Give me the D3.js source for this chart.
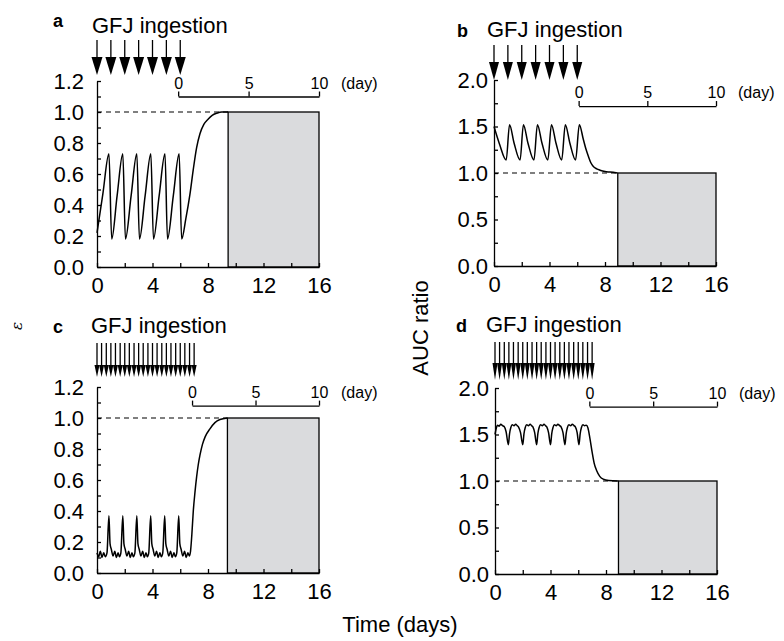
<!DOCTYPE html>
<html>
<head>
<meta charset="utf-8">
<script src="https://cdn.jsdelivr.net/npm/d3@7"></script>
<style>
  body { margin: 0; background: #fff; }
  text { font-family: "Liberation Sans", Arial, sans-serif; }
</style>
</head>
<body>
<div id="chart"></div>
<script>
// values
var xTicks = [0, 2, 4, 6, 8, 10, 12, 14, 16];
var epsTicks = [0, 0.1, 0.2, 0.3, 0.4, 0.5, 0.6, 0.7, 0.8, 0.9, 1.0, 1.1, 1.2];
var aucTicks = [0, 0.25, 0.5, 0.75, 1.0, 1.25, 1.5, 1.75, 2.0];
var topTicks = [0, 5, 10];
var panelLetters = ["a", "b", "c", "d"];
var doseLabel = "GFJ ingestion";

// once daily ingestion (a, b)
var dosesOnce = [0, 1, 2, 3, 4, 5, 6];
// three times a day (c, d)
var dosesThrice = [0, 0.33, 0.67, 1, 1.33, 1.67, 2, 2.33, 2.67, 3, 3.33, 3.67, 4, 4.33, 4.67, 5, 5.33, 5.67, 6, 6.33, 6.67, 7];

// a: epsilon, once daily
var daysA = [0, 0.42, 0.86, 1.06, 1.45, 1.86, 2.05, 2.46, 2.87, 3.06, 3.47, 3.88, 4.07, 4.48, 4.9, 5.08, 5.5, 5.92, 6.1,
  6.4, 6.7, 6.94, 7.18, 7.42, 7.7, 8.02, 8.3, 8.63, 9.0, 9.45];
var epsA = [0.22, 0.47, 0.73, 0.18, 0.46, 0.73, 0.18, 0.46, 0.73, 0.18, 0.46, 0.73, 0.18, 0.46, 0.73, 0.18, 0.46, 0.73, 0.18,
  0.31, 0.47, 0.63, 0.77, 0.86, 0.92, 0.955, 0.978, 0.992, 1.0, 1.0];

// b: AUC ratio, once daily
var daysB = [0, 0.4, 0.88, 1.12, 1.45, 1.88, 2.12, 2.45, 2.88, 3.13, 3.46, 3.88, 4.14, 4.47, 4.88, 5.14, 5.47, 5.88, 6.15,
  6.44, 6.62, 6.8, 6.98, 7.16, 7.4, 7.64, 8.0, 8.36, 8.9];
var aucB = [1.50, 1.31, 1.14, 1.52, 1.32, 1.14, 1.52, 1.32, 1.14, 1.52, 1.32, 1.14, 1.52, 1.32, 1.14, 1.52, 1.32, 1.14, 1.52,
  1.36, 1.26, 1.18, 1.11, 1.07, 1.045, 1.03, 1.015, 1.01, 1.0];

// c: epsilon, three times a day
var daysC = [0, 0.12, 0.24, 0.36, 0.48, 0.6, 0.72,
  0.86, 0.94, 1.04, 1.16, 1.28, 1.4, 1.52, 1.62, 1.72,
  1.86, 1.94, 2.04, 2.16, 2.28, 2.4, 2.52, 2.62, 2.73,
  2.87, 2.95, 3.05, 3.17, 3.29, 3.41, 3.53, 3.63, 3.73,
  3.87, 3.95, 4.05, 4.17, 4.29, 4.41, 4.53, 4.64, 4.74,
  4.88, 4.96, 5.06, 5.18, 5.3, 5.42, 5.54, 5.65, 5.75,
  5.89, 5.97, 6.07, 6.19, 6.31, 6.43, 6.55, 6.65,
  6.74, 6.83, 6.94, 7.06, 7.18, 7.3, 7.42, 7.6, 7.8, 8.14, 8.5, 8.86, 9.4];
var epsC = [0.13, 0.105, 0.14, 0.10, 0.13, 0.105, 0.13,
  0.37, 0.19, 0.15, 0.11, 0.14, 0.10, 0.13, 0.105, 0.13,
  0.37, 0.19, 0.15, 0.11, 0.14, 0.10, 0.13, 0.105, 0.13,
  0.37, 0.19, 0.15, 0.11, 0.14, 0.10, 0.13, 0.105, 0.13,
  0.37, 0.19, 0.15, 0.11, 0.14, 0.10, 0.13, 0.105, 0.13,
  0.37, 0.19, 0.15, 0.11, 0.14, 0.10, 0.13, 0.105, 0.13,
  0.37, 0.19, 0.15, 0.11, 0.14, 0.10, 0.13, 0.11,
  0.14, 0.24, 0.40, 0.52, 0.62, 0.70, 0.76, 0.83, 0.88, 0.93, 0.97, 0.99, 1.0];

// d: AUC ratio, three times a day
var daysD = [0, 0.08, 0.18, 0.3, 0.42, 0.54, 0.66, 0.8,
  0.96, 1.05, 1.14, 1.25, 1.37, 1.49, 1.6, 1.7, 1.84,
  2.0, 2.09, 2.18, 2.29, 2.41, 2.53, 2.64, 2.74, 2.86,
  3.0, 3.09, 3.18, 3.29, 3.41, 3.53, 3.64, 3.74, 3.86,
  4.0, 4.09, 4.18, 4.29, 4.41, 4.53, 4.66, 4.77, 4.9,
  5.04, 5.13, 5.22, 5.33, 5.45, 5.57, 5.69, 5.8, 5.92,
  6.05, 6.14, 6.23, 6.34, 6.46, 6.58, 6.7, 6.85, 7.0, 7.15, 7.33, 7.55, 7.8, 8.2, 8.9];
var aucD = [1.50, 1.56, 1.60, 1.59, 1.61, 1.595, 1.585, 1.53,
  1.39, 1.51, 1.575, 1.605, 1.595, 1.61, 1.595, 1.58, 1.52,
  1.39, 1.51, 1.575, 1.605, 1.595, 1.61, 1.595, 1.58, 1.52,
  1.39, 1.51, 1.575, 1.605, 1.595, 1.61, 1.595, 1.58, 1.52,
  1.39, 1.51, 1.575, 1.605, 1.595, 1.61, 1.595, 1.58, 1.52,
  1.39, 1.51, 1.575, 1.605, 1.595, 1.61, 1.595, 1.58, 1.52,
  1.39, 1.51, 1.575, 1.605, 1.595, 1.60, 1.57, 1.45, 1.31, 1.19, 1.11, 1.05, 1.02, 1.005, 1.0];

// shaded interval (start day) and start of the secondary day axis
var boxStart = [9.45, 8.92, 9.4, 8.9];
var recoveryStart = [5.85, 6.1, 6.85, 6.8];

var width = 784, height = 641;
var plotW = 222, plotH = 186;
var FONT = "Liberation Sans, Arial, sans-serif";
var BOX_FILL = "#dadbdd";

var svg = d3.select("#chart")
  .append("svg")
  .attr("width", width)
  .attr("height", height);

var fmtEps = d => (Math.round(d * 10) % 2 === 0) ? d.toFixed(1) : "";
var fmtAuc = d => (Math.round(d * 4) % 2 === 0) ? d.toFixed(1) : "";

var panels = [
  {left: 97, top: 81, days: daysA, vals: epsA, ymax: 1.2, yTicks: epsTicks, fmt: fmtEps, doses: dosesOnce, yPad: 13, topY: 1.1,
   arrow: {top: 40, head: 57, tip: 75, w: 11}, label: [92, 33], letter: [53, 27]},
  {left: 494, top: 80, days: daysB, vals: aucB, ymax: 2.0, yTicks: aucTicks, fmt: fmtAuc, doses: dosesOnce, yPad: 6, topY: 1.72,
   arrow: {top: 45, head: 62, tip: 80, w: 10}, label: [487, 37], letter: [457, 37]},
  {left: 97, top: 387, days: daysC, vals: epsC, ymax: 1.2, yTicks: epsTicks, fmt: fmtEps, doses: dosesThrice, yPad: 13, topY: 1.08,
   arrow: {top: 343, head: 365, tip: 377, w: 5}, label: [91, 333], letter: [53, 333]},
  {left: 495, top: 388, days: daysD, vals: aucD, ymax: 2.0, yTicks: aucTicks, fmt: fmtAuc, doses: dosesThrice, yPad: 6, topY: 1.8,
   arrow: {top: 342, head: 363, tip: 380, w: 5}, label: [486, 332], letter: [456, 332]}
];

function styleAxis(g, size) {
  g.attr("font-family", FONT).attr("font-size", size);
  g.selectAll("path.domain").attr("stroke", "#000").attr("stroke-width", 1.3);
  g.selectAll(".tick line").attr("stroke", "#000").attr("stroke-width", 1.3);
  g.selectAll(".tick text").attr("fill", "#000");
}

panels.forEach(function(p, i) {
  var x = d3.scaleLinear().domain([0, 16]).range([p.left, p.left + plotW]);
  var y = d3.scaleLinear().domain([0, p.ymax]).range([p.top + plotH, p.top]);

  // shaded box
  svg.append("rect")
    .attr("x", x(boxStart[i]))
    .attr("y", y(1))
    .attr("width", x(16) - x(boxStart[i]))
    .attr("height", y(0) - y(1))
    .attr("fill", BOX_FILL)
    .attr("stroke", "#000")
    .attr("stroke-width", 1.3);

  // dashed reference at 1.0
  svg.append("line")
    .attr("x1", x(0)).attr("x2", x(boxStart[i]))
    .attr("y1", y(1)).attr("y2", y(1))
    .attr("stroke", "#000")
    .attr("stroke-width", 1.1)
    .attr("stroke-dasharray", "5,4");

  // curve
  var pts = p.days.map((d, j) => [d, p.vals[j]]);
  svg.append("path")
    .datum(pts)
    .attr("fill", "none")
    .attr("stroke", "#000")
    .attr("stroke-width", 1.5)
    .attr("stroke-linejoin", "round")
    .attr("d", d3.line().x(d => x(d[0])).y(d => y(d[1])).curve(d3.curveMonotoneX));

  // axes
  var gx = svg.append("g")
    .attr("transform", "translate(0," + y(0) + ")")
    .call(d3.axisBottom(x)
      .tickValues(xTicks)
      .tickSizeInner(-4)
      .tickSizeOuter(0)
      .tickPadding(10)
      .tickFormat(d => d % 4 === 0 ? d : ""));
  styleAxis(gx, 22);

  var gy = svg.append("g")
    .attr("transform", "translate(" + x(0) + ",0)")
    .call(d3.axisLeft(y)
      .tickValues(p.yTicks)
      .tickSizeInner(-4)
      .tickSizeOuter(0)
      .tickPadding(p.yPad)
      .tickFormat(p.fmt));
  styleAxis(gy, 22);

  // secondary day axis
  var xt = d3.scaleLinear().domain([0, 10]).range([x(recoveryStart[i]), x(16)]);
  var gt = svg.append("g")
    .attr("transform", "translate(0," + y(p.topY) + ")")
    .call(d3.axisTop(xt)
      .tickValues(topTicks)
      .tickSizeInner(5)
      .tickSizeOuter(0)
      .tickPadding(3));
  styleAxis(gt, 16);

  svg.append("text")
    .attr("x", x(16) + 22)
    .attr("y", y(p.topY) - 8)
    .attr("font-size", 16)
    .text("(day)");

  // ingestion arrows
  var a = p.arrow;
  var arrows = svg.append("g").selectAll("g")
    .data(p.doses)
    .enter()
    .append("g");
  arrows.append("line")
    .attr("x1", d => x(d)).attr("x2", d => x(d))
    .attr("y1", a.top).attr("y2", a.head + 2)
    .attr("stroke", "#000")
    .attr("stroke-width", 1.3);
  arrows.append("path")
    .attr("d", d => "M" + (x(d) - a.w / 2) + "," + a.head + "L" + (x(d) + a.w / 2) + "," + a.head + "L" + x(d) + "," + a.tip + "Z")
    .attr("fill", "#000");

  // titles
  svg.append("text")
    .attr("x", p.letter[0])
    .attr("y", p.letter[1])
    .attr("font-size", 18)
    .attr("font-weight", "bold")
    .text(panelLetters[i]);
  svg.append("text")
    .attr("x", p.label[0])
    .attr("y", p.label[1])
    .attr("font-size", 22)
    .text(doseLabel);
});

// shared axis titles
svg.append("text")
  .attr("transform", "translate(22,326)rotate(-90)")
  .attr("text-anchor", "middle")
  .style("font-family", "DejaVu Serif, serif")
  .style("font-style", "italic")
  .attr("font-size", 15)
  .text("ε");

svg.append("text")
  .attr("transform", "translate(428,328)rotate(-90)")
  .attr("text-anchor", "middle")
  .attr("font-size", 22)
  .text("AUC ratio");

svg.append("text")
  .attr("x", 400)
  .attr("y", 632)
  .attr("text-anchor", "middle")
  .attr("font-size", 22)
  .text("Time (days)");
</script>
</body>
</html>
